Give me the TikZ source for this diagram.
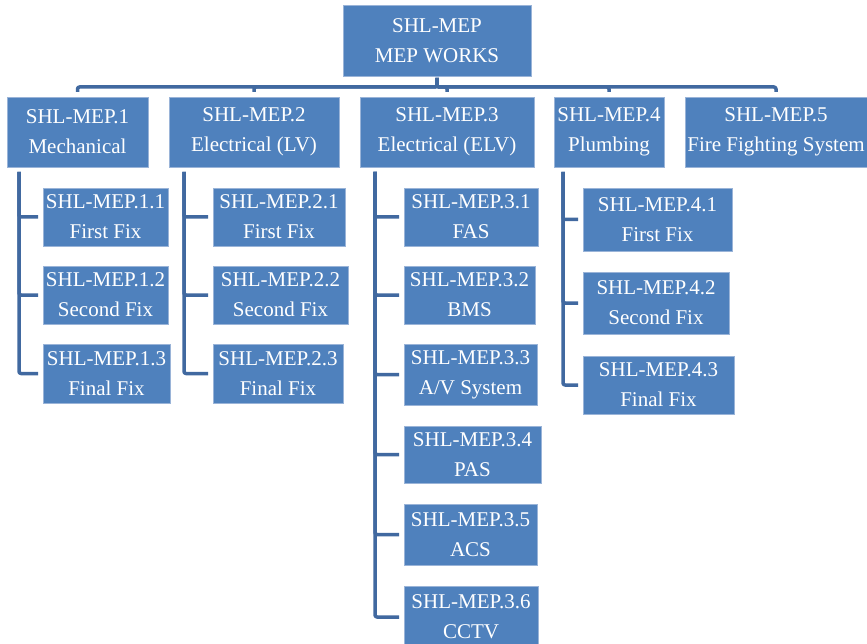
\documentclass[tikz,border=0pt]{standalone}
\usepackage{fontspec}
\setmainfont{Liberation Serif}
\usetikzlibrary{calc}
\definecolor{boxfill}{HTML}{4F81BD}
\definecolor{boxedge}{HTML}{9AB4D8}
\definecolor{linkcol}{HTML}{4169A0}
\tikzset{
  wbs/.style={draw=boxedge, line width=0.8pt, fill=boxfill, text=white,
    inner sep=0pt, outer sep=0pt, align=center, anchor=north west,
    font=\fontsize{21pt}{30pt}\selectfont},
  link/.style={draw=linkcol, line width=3.5pt, line join=round, rounded corners=2pt},
}
% box given by left, top, right, bottom (pt, y measured downwards)
\newcommand\wbsbox[6]{%
  \node[wbs, minimum width={(#4-#2)*1pt}, minimum height={(#5-#3)*1pt}]
    (#1) at (#2pt,-#3pt) {#6};}
\begin{document}
\begin{tikzpicture}[x=1pt,y=1pt]
\useasboundingbox (0,0) rectangle (867,-644);

% top level
\wbsbox{root}{343}{5}{531}{76}{SHL-MEP\\MEP WORKS}

% second level
\wbsbox{m1}{7}{97}{148}{167}{SHL-MEP.1\\Mechanical}
\wbsbox{m2}{169}{97}{339}{167}{SHL-MEP.2\\Electrical (LV)}
\wbsbox{m3}{360}{97}{534}{167}{SHL-MEP.3\\Electrical (ELV)}
\wbsbox{m4}{554}{97}{664}{167}{SHL-MEP.4\\Plumbing}
\wbsbox{m5}{685}{97}{867}{167}{SHL-MEP.5\\Fire Fighting System}

% mechanical
\wbsbox{m11}{43}{188}{168}{246}{SHL-MEP.1.1\\First Fix}
\wbsbox{m12}{43}{266}{168}{324}{SHL-MEP.1.2\\Second Fix}
\wbsbox{m13}{43}{344}{170}{403}{SHL-MEP.1.3\\Final Fix}

% electrical LV
\wbsbox{m21}{213}{188}{345}{246}{SHL-MEP.2.1\\First Fix}
\wbsbox{m22}{213}{266}{348}{324}{SHL-MEP.2.2\\Second Fix}
\wbsbox{m23}{213}{344}{343}{403}{SHL-MEP.2.3\\Final Fix}

% electrical ELV
\wbsbox{m31}{404}{188}{538}{246}{SHL-MEP.3.1\\FAS}
\wbsbox{m32}{404}{266}{535}{324}{SHL-MEP.3.2\\BMS}
\wbsbox{m33}{404}{344}{537}{405}{SHL-MEP.3.3\\A/V System}
\wbsbox{m34}{404}{426}{541}{483}{SHL-MEP.3.4\\PAS}
\wbsbox{m35}{404}{504}{537}{565}{SHL-MEP.3.5\\ACS}
\wbsbox{m36}{404}{586}{538}{648}{SHL-MEP.3.6\\CCTV}

% plumbing
\wbsbox{m41}{583}{188}{732}{251}{SHL-MEP.4.1\\First Fix}
\wbsbox{m42}{583}{272}{729}{334}{SHL-MEP.4.2\\Second Fix}
\wbsbox{m43}{583}{356}{734}{414}{SHL-MEP.4.3\\Final Fix}

% bus from the top box to the second level
\foreach \c in {m1,m2,m3,m4,m5}
  \draw[link, shorten <=2pt, shorten >=5pt]
    (root.south) -- (root.south |- 0,-87) -| (\c.north);

% vertical spines with branches to the children
\foreach \p/\dx/\kids in {m1/12/{m11,m12,m13}, m2/15/{m21,m22,m23},
                         m3/15/{m31,m32,m33,m34,m35,m36}, m4/9/{m41,m42,m43}}
  \foreach \k in \kids
    \draw[link, shorten <=5pt, shorten >=5pt]
      ($(\p.south west)+(\dx,0)$) |- (\k.west);
\end{tikzpicture}
\end{document}
